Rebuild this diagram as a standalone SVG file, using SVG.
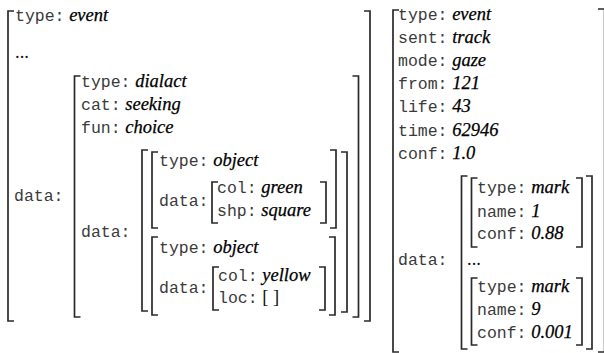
<svg xmlns="http://www.w3.org/2000/svg" width="604" height="353" viewBox="0 0 604 353">
<style>
.b{fill:none;stroke:#2a2a2a;stroke-width:1.7}
.k{font-family:"Liberation Mono",monospace;font-size:16.5px;fill:#3a3a3a}
.v{font-family:"Liberation Serif",serif;font-style:italic;font-size:18.5px;fill:#000;stroke:#000;stroke-width:0.25}
.u{font-family:"Liberation Serif",serif;font-size:18.5px;fill:#111}
</style>
<rect width="604" height="353" fill="#fff"/>
<g id="left-event">
<path class="b" d="M14 11H8V321H14"/>
<path class="b" d="M364 11H370V321H364"/>
<text x="15" y="20.5"><tspan class="k">type:</tspan><tspan class="v"> event</tspan></text>
<text x="15" y="58" class="u">...</text>
<text x="14" y="201" class="k">data:</text>
</g>
<g id="dialact">
<path class="b" d="M80.5 76H74.5V317H80.5"/>
<path class="b" d="M352.5 76H358.5V317H352.5"/>
<text x="81" y="87"><tspan class="k">type:</tspan><tspan class="v"> dialact</tspan></text>
<text x="81" y="110"><tspan class="k">cat:</tspan><tspan class="v"> seeking</tspan></text>
<text x="81" y="133"><tspan class="k">fun:</tspan><tspan class="v"> choice</tspan></text>
<text x="81" y="237" class="k">data:</text>
</g>
<g id="object-list">
<path class="b" d="M148 150H142V311H148"/>
<path class="b" d="M341 152H347V312H341"/>
</g>
<g id="object1">
<path class="b" d="M158 152H152V228H158"/>
<path class="b" d="M330 150H336V228H330"/>
<text x="159" y="166"><tspan class="k">type:</tspan><tspan class="v"> object</tspan></text>
<text x="159" y="206" class="k">data:</text>
<path class="b" d="M218 182H212V223H218"/>
<path class="b" d="M320 182H326V223H320"/>
<text x="217" y="193"><tspan class="k">col:</tspan><tspan class="v"> green</tspan></text>
<text x="217" y="216"><tspan class="k">shp:</tspan><tspan class="v"> square</tspan></text>
</g>
<g id="object2">
<path class="b" d="M158 237H152V315H158"/>
<path class="b" d="M329 237H335V315H329"/>
<text x="159" y="253"><tspan class="k">type:</tspan><tspan class="v"> object</tspan></text>
<text x="159" y="293" class="k">data:</text>
<path class="b" d="M219 267H213V310H219"/>
<path class="b" d="M319 267H325V310H319"/>
<text x="218" y="281"><tspan class="k">col:</tspan><tspan class="v"> yellow</tspan></text>
<text x="218" y="303"><tspan class="k">loc:</tspan><tspan class="u"> [ ]</tspan></text>
</g>
<g id="right-event">
<path class="b" d="M399 10H393V352H399"/>
<path class="b" d="M598 9H604.6V352H598"/>
<text x="398" y="20"><tspan class="k">type:</tspan><tspan class="v"> event</tspan></text>
<text x="398" y="43"><tspan class="k">sent:</tspan><tspan class="v"> track</tspan></text>
<text x="398" y="66"><tspan class="k">mode:</tspan><tspan class="v"> gaze</tspan></text>
<text x="398" y="89"><tspan class="k">from:</tspan><tspan class="v"> 121</tspan></text>
<text x="398" y="112"><tspan class="k">life:</tspan><tspan class="v"> 43</tspan></text>
<text x="398" y="135.5"><tspan class="k">time:</tspan><tspan class="v"> 62946</tspan></text>
<text x="398" y="158.5"><tspan class="k">conf:</tspan><tspan class="v"> 1.0</tspan></text>
<text x="398" y="265" class="k">data:</text>
</g>
<g id="mark-list">
<path class="b" d="M467.5 176H461.5V349H467.5"/>
<path class="b" d="M586 176H592V349H586"/>
<text x="467" y="265" class="u">...</text>
</g>
<g id="mark1">
<path class="b" d="M477.5 178H471.5V247H477.5"/>
<path class="b" d="M576 178H582V247H576"/>
<text x="477" y="193"><tspan class="k">type:</tspan><tspan class="v"> mark</tspan></text>
<text x="477" y="216.5"><tspan class="k">name:</tspan><tspan class="v"> 1</tspan></text>
<text x="477" y="239"><tspan class="k">conf:</tspan><tspan class="v"> 0.88</tspan></text>
</g>
<g id="mark9">
<path class="b" d="M477.5 278H471.5V345H477.5"/>
<path class="b" d="M576 278H582V345H576"/>
<text x="477" y="291.5"><tspan class="k">type:</tspan><tspan class="v"> mark</tspan></text>
<text x="477" y="315"><tspan class="k">name:</tspan><tspan class="v"> 9</tspan></text>
<text x="477" y="338"><tspan class="k">conf:</tspan><tspan class="v"> 0.001</tspan></text>
</g>
<g id="connectors"/>
</svg>
